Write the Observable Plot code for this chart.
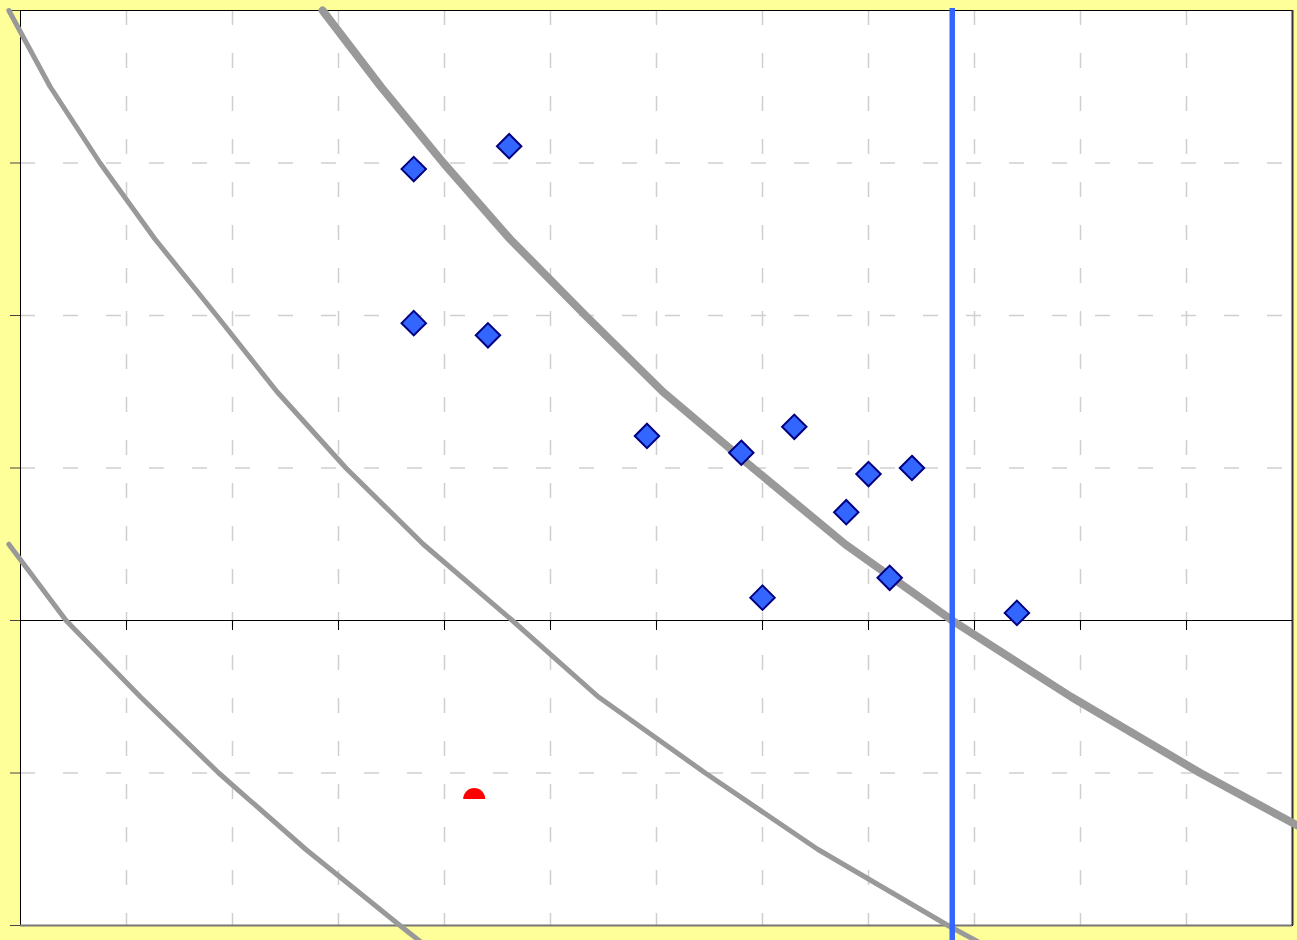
<!DOCTYPE html>
<html>
<head>
<meta charset="utf-8">
<script src="https://cdn.jsdelivr.net/npm/d3@7"></script>
<script src="https://cdn.jsdelivr.net/npm/@observablehq/plot@0.6"></script>
<style>
  html, body { margin: 0; padding: 0; background: #FFFF99; }
  #chart svg { display: block; }
</style>
</head>
<body>
<div id="chart"></div>
<script>
// ---- data ----
const pointX = [3.71, 4.61, 3.71, 4.41, 5.91, 6.80, 7.30, 8.00, 8.41, 7.79, 8.20, 7.00, 9.40];
const pointY = [2.96, 3.11, 1.95, 1.87, 1.21, 1.10, 1.27, 0.96, 1.00, 0.71, 0.28, 0.15, 0.05];

const redX = [4.28];
const redY = [-1.17];

const blueLineX = [8.79];

// curve A (thin, middle-left)
const curveAX = [-0.11, 0.28, 0.75, 1.27, 1.85, 2.42, 3.07, 3.80, 4.64, 5.45, 6.46, 7.52, 8.75, 10.08];
const curveAY = [4.0, 3.5, 3.0, 2.5, 2.0, 1.5, 1.0, 0.5, 0.0, -0.5, -1.0, -1.5, -2.0, -2.5];
// curve B (thick, right)
const curveBX = [2.85, 3.40, 3.99, 4.62, 5.33, 6.06, 6.91, 7.78, 8.79, 9.91, 11.13, 12.46];
const curveBY = [4.0, 3.5, 3.0, 2.5, 2.0, 1.5, 1.0, 0.5, 0.0, -0.5, -1.0, -1.5];
// curve C (thin, bottom-left)
const curveCX = [-0.11, 0.43, 1.13, 1.87, 2.69, 3.58, 4.49];
const curveCY = [0.5, 0.0, -0.5, -1.0, -1.5, -2.0, -2.5];

const xGrid = [1, 2, 3, 4, 5, 6, 7, 8, 9, 10, 11];
const yGrid = [-1, 1, 2, 3];
const yTicks = [-2, -1, 0, 1, 2, 3, 4];
const xAxisTicks = [1, 2, 3, 4, 5, 6, 7, 8, 9, 10, 11];

// ---- build tables ----
const points = pointX.map((x, i) => ({x, y: pointY[i]}));
const red = redX.map((x, i) => ({x, y: redY[i]}));
const toRows = (xs, ys) => xs.map((x, i) => ({x, y: ys[i]}));
const curveA = toRows(curveAX, curveAY);
const curveB = toRows(curveBX, curveBY);
const curveC = toRows(curveCX, curveCY);

// half-disk symbol (top half)
const halfDisk = {
  draw(context, size) {
    const r = Math.sqrt(size / Math.PI);
    context.moveTo(-r, 0);
    context.arc(0, 0, r, Math.PI, 0);
    context.closePath();
  }
};

const gray = "#999999";
const gridColor = "#CFCFCF";

const chart = Plot.plot({
  width: 1297,
  height: 940,
  marginLeft: 20,
  marginTop: 10,
  marginRight: 5,
  marginBottom: 15,
  x: {domain: [0, 12], axis: null},
  y: {domain: [-2, 4], axis: null},
  style: {background: "#FFFF99", overflow: "visible"},
  marks: [
    Plot.frame({fill: "white", stroke: "none"}),
    // dashed grid
    Plot.ruleX(xGrid, {x: d => d, stroke: gridColor, strokeWidth: 1.5, strokeDasharray: "15,28"}),
    Plot.ruleY(yGrid, {y: d => d, stroke: gridColor, strokeWidth: 1.5, strokeDasharray: "15,28"}),
    // frame
    Plot.frame({stroke: "black", strokeWidth: 1}),
    Plot.ruleY([-2], {y: d => d, stroke: "#777777", strokeWidth: 2}),
    Plot.ruleX([12], {x: d => d, stroke: "#333333", strokeWidth: 2}),
    // left outward ticks
    Plot.ruleY(yTicks, {y: d => d, x1: 0, x2: 0, insetLeft: -10, stroke: "#444444", strokeWidth: 1}),
    // horizontal axis at y = 0 with downward ticks
    Plot.ruleY([0], {y: d => d, stroke: "black", strokeWidth: 1}),
    Plot.ruleX(xAxisTicks, {x: d => d, y1: 0, y2: 0, insetBottom: -10, stroke: "black", strokeWidth: 1}),
    // curves
    Plot.line(curveC, {x: "x", y: "y", stroke: gray, strokeWidth: 5}),
    Plot.line(curveA, {x: "x", y: "y", stroke: gray, strokeWidth: 5}),
    Plot.line(curveB, {x: "x", y: "y", stroke: gray, strokeWidth: 8}),
    // blue vertical line
    Plot.ruleX(blueLineX, {x: d => d, stroke: "#3366FF", strokeWidth: 5.5, insetTop: -2, insetBottom: -15}),
    // points
    Plot.dot(points, {x: "x", y: "y", symbol: "diamond2", r: 11, fill: "#3366FF", stroke: "#000080", strokeWidth: 2}),
    Plot.dot(red, {x: "x", y: "y", symbol: halfDisk, r: 11, fill: "#FF0000", stroke: "none"})
  ]
});

document.getElementById("chart").appendChild(chart);
</script>
</body>
</html>
